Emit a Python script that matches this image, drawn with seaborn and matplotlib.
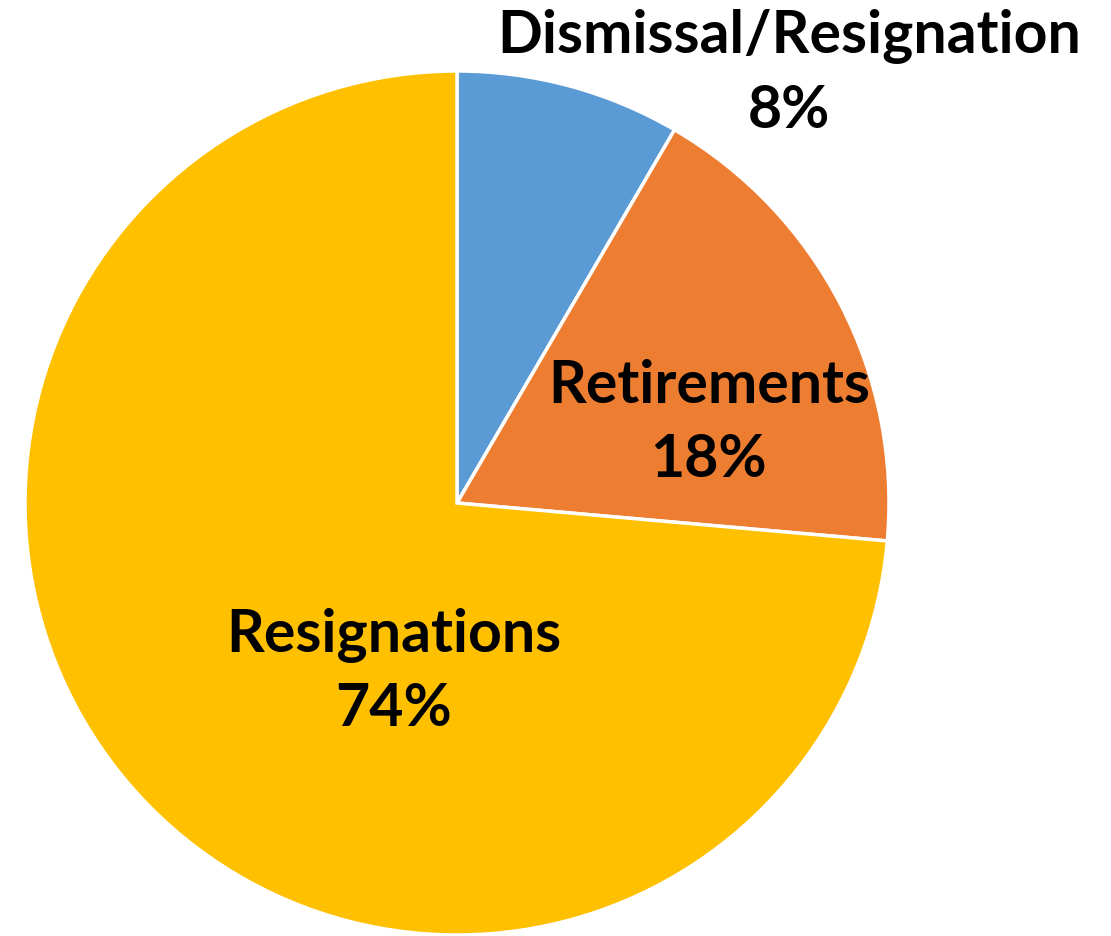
import matplotlib
matplotlib.use("Agg")
import matplotlib.pyplot as plt
import seaborn as sns

categories = ["Dismissal/Resignation", "Retirements", "Resignations"]
values = [8.4, 18.0, 73.6]
colors = ["#5B9BD5", "#ED7D31", "#FFC000"]
label_pos = [(0.7685, 0.995), (0.583, 0.185), (-0.146, -0.391)]

sns.set_theme(style="white")
plt.rcParams['font.family'] = ['Lato', 'DejaVu Sans']

fig = plt.figure(figsize=(11.11, 9.36), dpi=100)
ax = fig.add_axes([0, 0, 1, 1])
ax.pie(values, colors=colors, startangle=90, counterclock=False,
       radius=1.0, center=(0, 0),
       wedgeprops=dict(edgecolor="white", linewidth=2.5))
ax.set_xlim(-457 / 432, (1111 - 457) / 432)
ax.set_ylim((503 - 936) / 432, 503 / 432)
ax.set_aspect('auto')
ax.axis('off')

total = sum(values)
for cat, v, (x, y) in zip(categories, values, label_pos):
    ax.text(x, y, f"{cat}\n{round(v / total * 100)}%", ha="center", va="center",
            fontsize=42.5, fontweight="bold", color="black", linespacing=1.45)

fig.savefig("out.png", dpi=100)
